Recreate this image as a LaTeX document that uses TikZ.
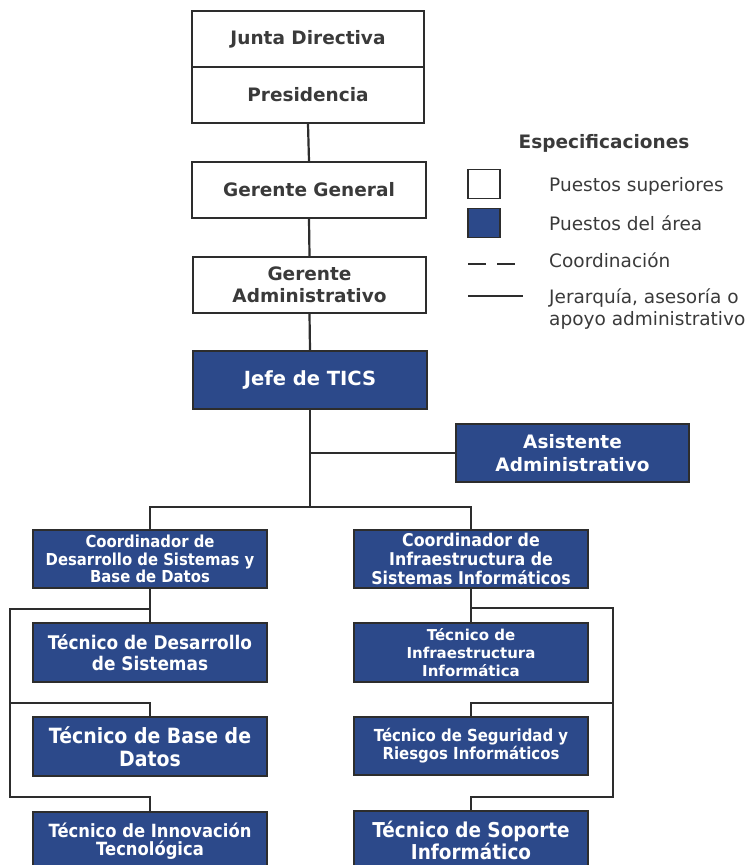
\documentclass[tikz,border=0pt]{standalone}
\usepackage{fontspec}
\setmainfont{DejaVu Sans}
\newfontfamily\narrowfont[FakeStretch=0.9]{DejaVu Sans}
\definecolor{boxblue}{RGB}{44,73,138}
\definecolor{ink}{RGB}{45,45,45}
\definecolor{txt}{RGB}{58,58,58}
\newcommand\fsz[2]{\fontsize{#1}{#2}\selectfont}
\pgfdeclarelayer{bg}
\pgfsetlayers{bg,main}
\tikzset{
  upperbox/.style={draw=ink, line width=1.8pt, fill=white, text=txt, align=center, inner sep=0pt,
    font=\bfseries\fsz{18.5}{22.5}},
  areabox/.style={draw=ink, line width=1.8pt, fill=boxblue, text=white, align=center, inner sep=0pt},
  link/.style={draw=ink, line width=2.2pt},
  legtext/.style={text=txt, inner sep=0pt, font=\fsz{18.5}{22}},
  legsq/.style={draw=ink, line width=1.5pt, minimum width=32pt, minimum height=29pt, inner sep=0pt},
}
\begin{document}
\begin{tikzpicture}[x=1pt,y=-1pt]
\useasboundingbox (0,0) rectangle (749,865);
\clip (0,0) rectangle (749,865);

% upper positions
\node[upperbox, minimum width=232pt, minimum height=56pt] (jd) at (308,39) {Junta Directiva};
\node[upperbox, minimum width=232pt, minimum height=56pt] (pres) at (308,95) {Presidencia};
\node[upperbox, minimum width=234pt, minimum height=56pt] (gg) at (309,190) {Gerente General};
\node[upperbox, minimum width=233pt, minimum height=56pt] (ga) at (309.5,285) {Gerente\\Administrativo};

% area positions
\node[areabox, minimum width=234pt, minimum height=58pt, font=\bfseries\fsz{19.5}{22}] (jefe) at (310,380) {Jefe de TICS};
\node[areabox, minimum width=233pt, minimum height=58pt, font=\bfseries\fsz{18.5}{22.5}] (asis) at (572.5,453) {Asistente\\Administrativo};
\node[areabox, minimum width=234pt, minimum height=58pt, font=\narrowfont\bfseries\fsz{16.5}{17.8}] (cl) at (150,559) {Coordinador de\\Desarrollo de Sistemas y\\Base de Datos};
\node[areabox, minimum width=234pt, minimum height=58pt, font=\narrowfont\bfseries\fsz{17.6}{18.8}] (cr) at (471,559) {Coordinador de\\Infraestructura de\\Sistemas Informáticos};
\node[areabox, minimum width=234pt, minimum height=59pt, font=\narrowfont\bfseries\fsz{18.8}{20.5}] (tdes) at (150,652.5) {Técnico de Desarrollo\\de Sistemas};
\node[areabox, minimum width=234pt, minimum height=59pt, font=\bfseries\fsz{15}{18}] (tinf) at (471,652.5) {Técnico de\\Infraestructura\\Informática};
\node[areabox, minimum width=234pt, minimum height=59pt, font=\narrowfont\bfseries\fsz{21}{23}] (tbd) at (150,746.5) {Técnico de Base de\\Datos};
\node[areabox, minimum width=234pt, minimum height=58pt, font=\narrowfont\bfseries\fsz{16.6}{18}] (tseg) at (471,746) {Técnico de Seguridad y\\Riesgos Informáticos};
\node[areabox, minimum width=234pt, minimum height=58pt, font=\narrowfont\bfseries\fsz{18.2}{18.5}] (tinn) at (150,841) {Técnico de Innovación\\Tecnológica};
\node[areabox, minimum width=234pt, minimum height=58pt, font=\narrowfont\bfseries\fsz{20.5}{22}] (tsop) at (471,840) {Técnico de Soporte\\Informático};

% legend
\node[legtext, font=\bfseries\fsz{18.5}{22}] (leghead) at (604,143) {Especificaciones};
\node[legsq, fill=white] (lw) at (484,184) {};
\node[legsq, fill=boxblue] (lb) at (484,223) {};
\coordinate (d1) at (468,264);
\coordinate (d2) at (522,264);
\coordinate (s1) at (468,296);
\coordinate (s2) at (523,296);
\draw[link, line width=2pt, dash pattern=on 18pt off 11pt] (d1) -- (d2);
\draw[link, line width=2pt] (s1) -- (s2);
\node[legtext, anchor=base west] (t1) at (549,191) {Puestos superiores};
\node[legtext, anchor=base west] (t2) at (549,230) {Puestos del área};
\node[legtext, anchor=base west] (t3) at (549,267) {Coordinación};
\node[legtext, anchor=west, align=left] (t4) at (549,309) {Jerarquía, asesoría o\\apoyo administrativo};

% connectors
\coordinate (busL) at (150,507);
\coordinate (busR) at (471,507);
\coordinate (l1) at (10,609);
\coordinate (l2) at (10,703);
\coordinate (l3) at (10,797);
\coordinate (r1) at (613,608);
\coordinate (r2) at (613,703);
\coordinate (r3) at (613,797);
\begin{pgfonlayer}{bg}
\draw[link] (pres.south) -- (gg.north);
\draw[link] (gg.south) -- (ga.north);
\draw[link] (ga.south) -- (jefe.north);
\draw[link] (jefe.south) -- (jefe.south |- busL);
\draw[link] (jefe.south |- asis.west) -- (asis.west);
\draw[link] (cl.north) -- (busL) -- (busR) -- (cr.north);
\draw[link] (cl.south) -- (tdes.north);
\draw[link] (tdes.north |- l1) -- (l1) -- (l3) -- (tinn.north |- l3) -- (tinn.north);
\draw[link] (l2) -- (tbd.north |- l2) -- (tbd.north);
\draw[link] (cr.south) -- (tinf.north);
\draw[link] (tinf.north |- r1) -- (r1) -- (r3) -- (tsop.north |- r3) -- (tsop.north);
\draw[link] (r2) -- (tseg.north |- r2) -- (tseg.north);
\end{pgfonlayer}
\end{tikzpicture}
\end{document}
